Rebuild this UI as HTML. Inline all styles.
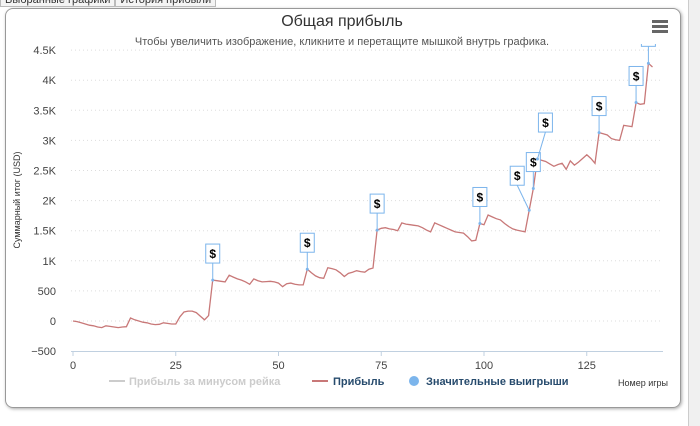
<!DOCTYPE html>
<html><head><meta charset="utf-8">
<style>
body{margin:0;width:700px;height:426px;overflow:hidden;background:#fff;font-family:"Liberation Sans","DejaVu Sans",sans-serif;position:relative}
.tabs{position:absolute;left:0;top:-7px;font-size:11px;color:#333}
.tabs span{display:inline-block;border:1px solid #bbb;padding:0 4px;background:#f4f4f4}
.frame{position:absolute;left:5px;top:8px;width:674px;height:398px;border:1px solid #999;border-radius:8px;box-shadow:1px 1px 3px #aaa}
.rstrip{position:absolute;left:688px;top:0;width:12px;height:426px;background:#f0f0f0;border-left:1px solid #ccc}
</style></head><body>
<div class="tabs"><span>Выбранные графики</span><span>История прибыли</span></div>
<div class="rstrip"></div>
<div class="frame"></div>
<svg id="chart" width="700" height="426" style="position:absolute;left:0;top:0">
<text x="342" y="26" text-anchor="middle" font-size="16" fill="#333">Общая прибыль</text>
<text x="342" y="45" text-anchor="middle" font-size="11" fill="#555">Чтобы увеличить изображение, кликните и перетащите мышкой внутрь графика.</text>
<g><rect x="652" y="20" width="16" height="3" fill="#666"/><rect x="652" y="25" width="16" height="3" fill="#666"/><rect x="652" y="30" width="16" height="3" fill="#666"/></g>
<text transform="translate(20,200) rotate(-90)" text-anchor="middle" font-size="9" fill="#333">Суммарный итог (USD)</text>
<g id="grid"></g><g id="yl"></g><g id="xl"></g>
<line x1="71" x2="663" y1="351.5" y2="351.5" stroke="#c0d0e0"/>
<clipPath id="cp"><rect x="60" y="44" width="620" height="320"/></clipPath>
<g id="series" clip-path="url(#cp)"></g>
<g>
<g><line x1="109" x2="125" y1="381" y2="381" stroke="#ccc" stroke-width="2"/><text x="129" y="385" font-size="11" font-weight="bold" fill="#ccc">Прибыль за минусом рейка</text></g>
<g><line x1="312" x2="328" y1="381" y2="381" stroke="#c87878" stroke-width="2"/><text x="333" y="385" font-size="11" font-weight="bold" fill="#274b6d">Прибыль</text></g>
<g><circle cx="414" cy="381" r="5" fill="#7cb5ec"/><text x="426" y="385" font-size="11" font-weight="bold" fill="#274b6d">Значительные выигрыши</text></g>
</g>
<text x="643" y="386" text-anchor="middle" font-size="9" fill="#333">Номер игры</text>
</svg>
<script>
const profit=[0,-10,-30,-50,-70,-80,-100,-110,-80,-90,-100,-110,-100,-95,50,20,0,-20,-30,-50,-60,-55,
-30,-40,-50,-50,70,150,165,165,140,80,20,90,680,670,660,650,760,730,700,680,650,610,700,670,650,655,
660,650,630,570,620,630,610,600,600,860,800,750,720,710,885,870,850,800,740,790,810,
835,820,810,860,880,1510,1540,1550,1530,1520,1500,1630,1610,1600,1590,1580,1550,1510,1480,1630,1600,1570,1540,1510,1480,1470,
1460,1400,1330,1340,1620,1600,1760,1730,1700,1680,1620,1570,1530,1510,1495,1480,1840,2200,2690,2670,2650,2610,2570,2600,2620,2520,2660,2590,2640,
2700,2760,2700,2620,3130,3110,3090,3030,3010,3000,3250,3240,3230,3630,3600,3610,4280,4220];
const bigWins=[34,57,74,99,111,112,113,128,137,140];
const yTicks=[-500,0,500,1000,1500,2000,2500,3000,3500,4000,4500];
const yTickLabels=["−500","0","500","1K","1.5K","2K","2.5K","3K","3.5K","4K","4.5K"];
const xTicks=[0,25,50,75,100,125];
const NS='http://www.w3.org/2000/svg';
const X=g=>73+g*4.11, Y=v=>321-v*0.0602;
function mk(t,a,p){const e=document.createElementNS(NS,t);for(const k in a)e.setAttribute(k,a[k]);p.appendChild(e);return e;}
const grid=document.getElementById('grid'),yl=document.getElementById('yl'),xl=document.getElementById('xl'),ser=document.getElementById('series');
yTicks.forEach((v,i)=>{
 if(v>-500){const l=mk('line',{x1:71,x2:663,y1:Y(v),y2:Y(v),stroke:'#ddd','stroke-dasharray':'1,3'},grid);
 
 }
 const t=mk('text',{x:56,y:Y(v)+4,'text-anchor':'end','font-size':11,fill:'#444'},yl);t.textContent=yTickLabels[i];
 
 
});
xTicks.forEach(g=>{
 const l=mk('line',{x1:X(g),x2:X(g),y1:351,y2:356,stroke:'#c0d0e0'},xl);
 
 
 const t=mk('text',{x:X(g),y:369,'text-anchor':'middle','font-size':11,fill:'#444'},xl);t.textContent=g;
 
 
});
const path=mk('path',{d:profit.map((v,i)=>(i?'L':'M')+X(i).toFixed(1)+','+Y(v).toFixed(1)).join(''),fill:'none',stroke:'#c87878','stroke-width':1.3},ser);


const offs={111:[-12,-8],113:[8,-10]};
bigWins.forEach(g=>{
 const px=X(g),py=Y(profit[g]);const o=offs[g]||[0,0];
 const bx=px+o[0],by=py-17+o[1];
 const grp=mk('g',{},ser);
 
 
 mk('line',{x1:px,y1:py,x2:bx,y2:by,stroke:'#7cb5ec'},grp);
 mk('circle',{cx:px,cy:py,r:1.5,fill:'#7cb5ec'},grp);
 mk('rect',{x:bx-7,y:by-19,width:14,height:19,fill:'#fff',stroke:'#7cb5ec'},grp);
 const t=mk('text',{x:bx,y:by-5,'text-anchor':'middle','font-size':12,'font-weight':'bold',fill:'#000'},grp);t.textContent='$';
});
</script>
</body></html>
